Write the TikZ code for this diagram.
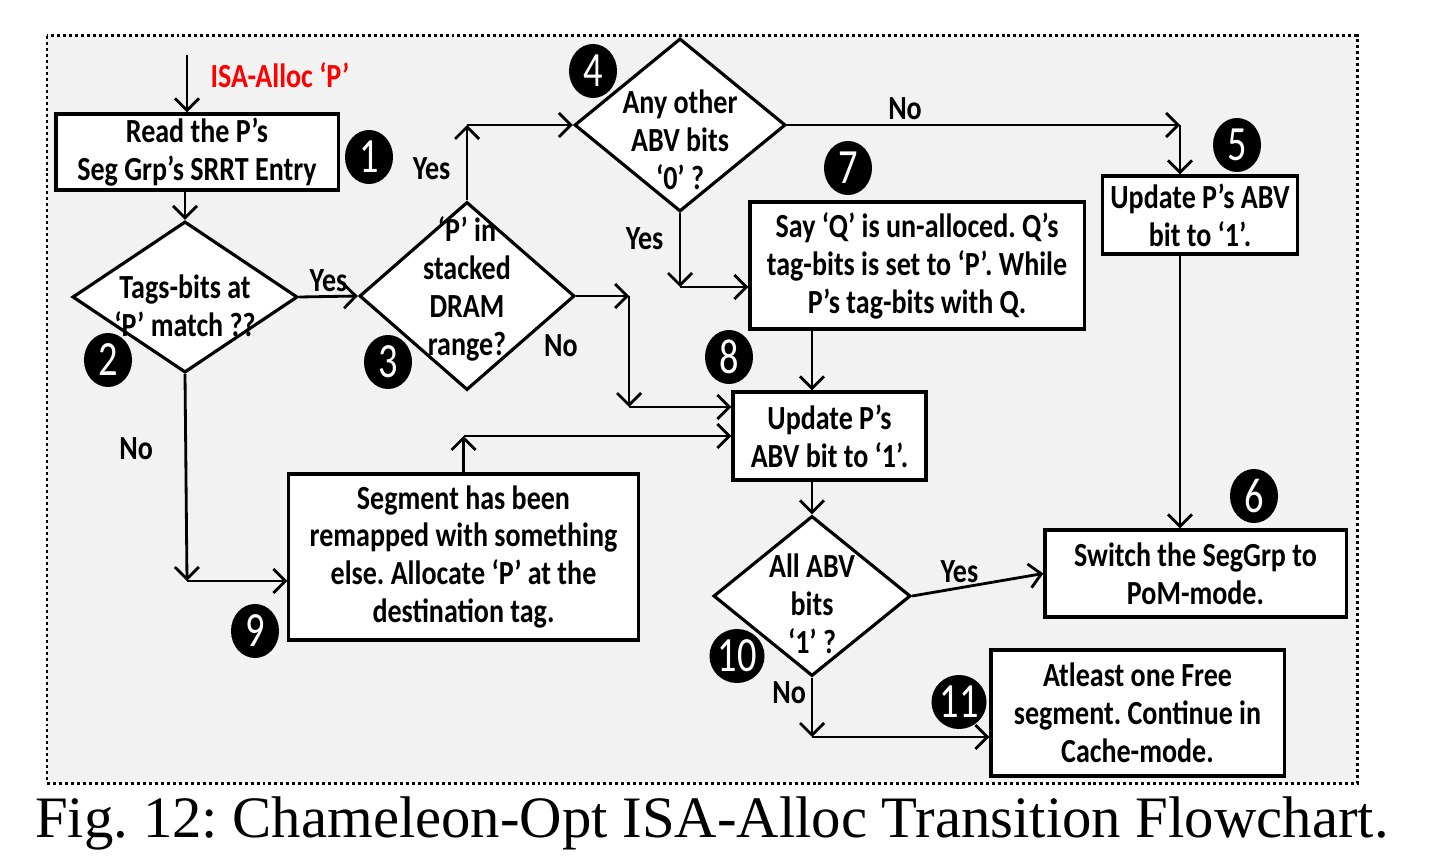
\documentclass[tikz,border=0pt]{standalone}
\usepackage{fontspec}
\setmainfont{Liberation Serif}
\newfontfamily\boxfont[FakeStretch=0.83]{Carlito}
\newfontfamily\numfont[FakeStretch=0.78]{Carlito}
\usetikzlibrary{arrows.meta,shapes,positioning}

\definecolor{panel}{HTML}{F2F2F2}
\definecolor{isared}{HTML}{FF0000}
\newcommand{\liftup}[1]{\rule{0pt}{#1}}
\newcommand{\dropdown}[1]{\rule[-#1]{0pt}{#1}}
\frenchspacing

\begin{document}
\begin{tikzpicture}[x=0.01cm, y=-0.01cm, >={Straight Barb[length=1.2mm,width=2.4mm]},
  every node/.style={font=\boxfont\bfseries\fontsize{9.6}{10.8}\selectfont},
  stepbox/.style={draw, fill=white, line width=0.9pt, align=center, inner sep=0pt},
  ask/.style={draw, fill=white, shape=diamond, line width=0.9pt, align=center, inner sep=-20pt},
  num/.style={ellipse, fill=black, text=white, inner sep=0pt, minimum width=0.48cm, minimum height=0.54cm,
    font=\numfont\fontsize{14}{14}\selectfont},
  link/.style={->, line width=0.8pt}]
  \useasboundingbox (0,0) rectangle (1434,864);
  \draw[fill=panel, line width=0.85pt, dash pattern=on 0.85pt off 0.85pt] (47,36) rectangle (1357,783);

  % steps and questions
  \node[stepbox, minimum width=2.82cm, minimum height=0.76cm] (read) at (197,152) {Read the P’s\\Seg Grp’s SRRT Entry};
  \node[ask, minimum width=2.25cm, minimum height=1.51cm] (tagq) at (185,297) {\liftup{0.41cm}Tags-bits at\\‘P’ match ??};
  \node[ask, minimum width=2.15cm, minimum height=1.88cm] (rangeq) at (467,296) {‘P’ in\\stacked\\DRAM\\range?\dropdown{0.19cm}};
  \node[ask, minimum width=2.11cm, minimum height=1.73cm] (abvq) at (680,125) {\liftup{0.53cm}Any other\\ABV bits\\‘0’ ?};
  \node[stepbox, minimum width=1.95cm, minimum height=0.78cm] (upd5) at (1200,215) {Update P’s ABV\\bit to ‘1’.};
  \node[stepbox, minimum width=3.34cm, minimum height=1.27cm] (sayq) at (917,265.5) {Say ‘Q’ is un-alloced. Q’s\\tag-bits is set to ‘P’. While\\P’s tag-bits with Q.};
  \node[stepbox, minimum width=1.93cm, minimum height=0.88cm] (upd8) at (829.5,436) {Update P’s\\ABV bit to ‘1’.};
  \node[stepbox, minimum width=3.49cm, minimum height=1.66cm] (remap) at (463.5,557) {Segment has been\\remapped with something\\else. Allocate ‘P’ at the\\destination tag.};
  \node[ask, minimum width=1.97cm, minimum height=1.60cm] (allq) at (812,596) {\liftup{0.39cm}All ABV\\bits\\‘1’ ?};
  \node[stepbox, minimum width=3.01cm, minimum height=0.87cm] (swpom) at (1195.5,573.5) {Switch the SegGrp to\\PoM-mode.};
  \node[stepbox, minimum width=2.93cm, minimum height=1.26cm] (cache) at (1137.5,713) {Atleast one Free\\segment. Continue in\\Cache-mode.};

  % step numbers
  \node[num] (n1) at (369,157) {1};
  \node[num] (n2) at (108,360) {2};
  \node[num] (n3) at (388,362) {3};
  \node[num] (n4) at (593,71) {4};
  \node[num] (n5) at (1237,145) {5};
  \node[num] (n6) at (1254,496) {6};
  \node[num] (n7) at (848,168) {7};
  \node[num] (n8) at (729,357) {8};
  \node[num] (n9) at (255,631) {9};
  \node[num] (n10) at (737,656) {10};
  \node[num] (n11) at (959,702) {11};

  % corners of the elbow connectors
  \coordinate (isa) at (187,55);
  \coordinate (c3up) at (rangeq.north |- abvq.west);
  \coordinate (c3r) at (629,296);
  \coordinate (c3d) at (629,407);
  \coordinate (c4r) at (1180,125);
  \coordinate (c4d) at (680,287);
  \coordinate (c2d) at (187,581);
  \coordinate (c9up) at (remap.north |- upd8.west);
  \coordinate (c10d) at (812,737);

  \draw[link] (isa) -- (isa |- read.north) node[pos=0.36, right=3pt, text=isared] (isalab) {ISA-Alloc ‘P’};
  \draw[link] (tagq.north |- read.south) -- (tagq.north);
  \draw[link] (tagq.east) -- (rangeq.west) node[midway, above, inner sep=1pt] (yes2) {Yes};
  \draw[link] (rangeq.north) -- (c3up) node[pos=0.42, left=1pt] (yes3) {Yes};
  \draw[link] (c3up) -- (abvq.west);
  \draw[link] (rangeq.east) -- (c3r);
  \draw[link] (c3r) -- (c3d);
  \draw[link] (c3d) -- (c3d -| upd8.west);
  \node (no3) at (561,346) {No};
  \draw[link] (abvq.east) -- (c4r) node[pos=0.3, above, inner sep=1pt] (no4) {No};
  \draw[link] (c4r) -- (c4r |- upd5.north);
  \draw[link] (abvq.south) -- (c4d) node[pos=0.35, left=1pt] (yes4) {Yes};
  \draw[link] (c4d) -- (c4d -| sayq.west);
  \draw[link] (sayq.south -| allq.north) -- (upd8.north -| allq.north);
  \draw[link] (tagq.south) -- (c2d) node[pos=0.36, left=5.6pt] (no2) {No};
  \draw[link] (c2d) -- (c2d -| remap.west);
  \draw[link] (remap.north) -- (c9up);
  \draw[link] (c9up) -- (upd8.west);
  \draw[link] (c4r |- upd5.south) -- (c4r |- swpom.north);
  \draw[link] (upd8.south -| allq.north) -- (allq.north);
  \draw[link] (allq.east) -- (swpom.west) node[pos=0.36, above, inner sep=1pt] (yes10) {Yes};
  \draw[link] (allq.south) -- (c10d) node[pos=0.25, left=-2pt] (no10) {No};
  \draw[link] (c10d) -- (c10d -| cache.west);

  \node[font=\rmfamily\mdseries\fontsize{16.7}{19}\selectfont] (caption) at (712,823) {Fig. 12: Chameleon-Opt ISA-Alloc Transition Flowchart.};
\end{tikzpicture}
\end{document}
